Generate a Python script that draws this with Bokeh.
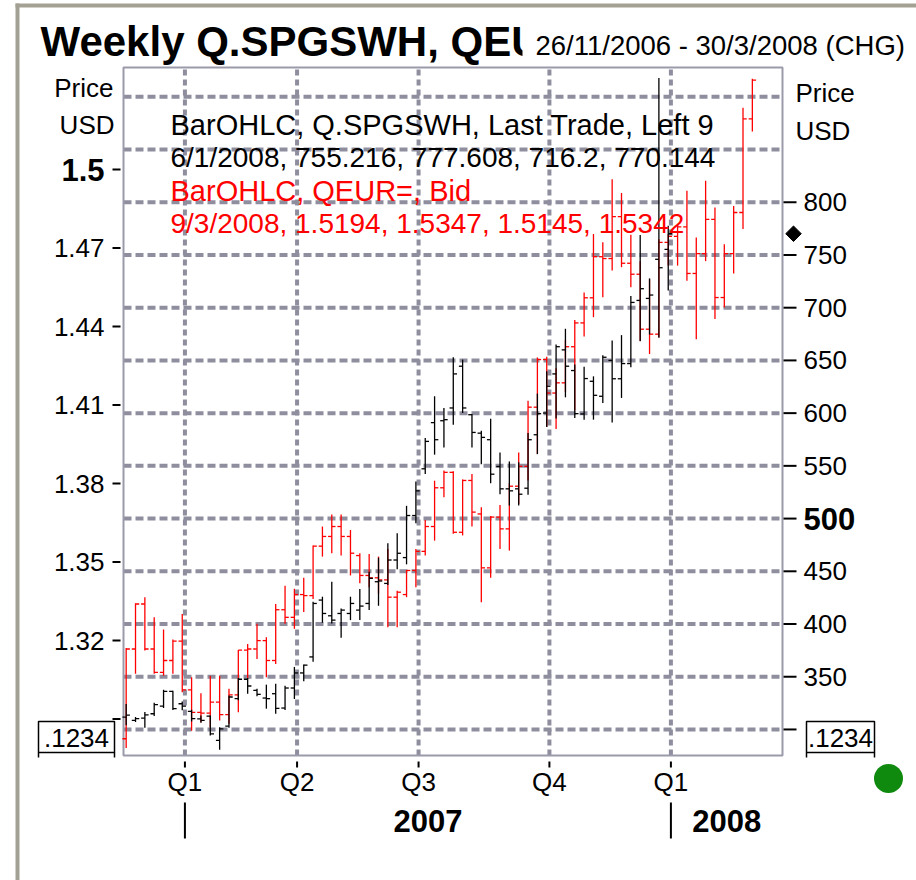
import numpy as np
import pandas as pd
from bokeh.plotting import figure
from bokeh.models import Range1d
from bokeh.core.properties import value
from bokeh.embed import file_html
from bokeh.resources import INLINE

FONT = "Liberation Sans"

# ---------------- data ----------------
first_week = "2006-11-26"
range_end_label = "30/3/2008"

# QEUR= , Bid (left axis)
eur_open = [1.2825, 1.3168, 1.3340, 1.3168, 1.3079, 1.3124, 1.3198, 1.3012, 1.2926, 1.2923,
            1.2965, 1.2917, 1.2993, 1.3164, 1.3168, 1.3200, 1.3124, 1.3318, 1.3289, 1.3376,
            1.3372, 1.3561, 1.3598, 1.3636, 1.3598, 1.3525, 1.3449, 1.3440, 1.3432, 1.3366,
            1.3376, 1.3468, 1.3541, 1.3636, 1.3784, 1.3843, 1.3614, 1.3812, 1.3684, 1.3478,
            1.3672, 1.3627, 1.3790, 1.3866, 1.4092, 1.4274, 1.4146, 1.4185, 1.4323, 1.4414,
            1.4510, 1.4667, 1.4660, 1.4820, 1.4642, 1.4600, 1.4390, 1.4371, 1.4722, 1.4745,
            1.4781, 1.4603, 1.4679, 1.4810, 1.4511, 1.4679, 1.4836, 1.5194]
eur_high = [1.3172, 1.3343, 1.3366, 1.3289, 1.3242, 1.3204, 1.3302, 1.3060, 1.2999, 1.3066,
            1.3066, 1.3016, 1.3164, 1.3187, 1.3264, 1.3213, 1.3340, 1.3410, 1.3398, 1.3440,
            1.3563, 1.3636, 1.3682, 1.3682, 1.3623, 1.3534, 1.3531, 1.3521, 1.3550, 1.3391,
            1.3470, 1.3550, 1.3661, 1.3811, 1.3850, 1.3847, 1.3816, 1.3837, 1.3710, 1.3676,
            1.3718, 1.3801, 1.3919, 1.4117, 1.4282, 1.4285, 1.4241, 1.4348, 1.4425, 1.4530,
            1.4754, 1.4722, 1.4963, 1.4910, 1.4751, 1.4650, 1.4581, 1.4734, 1.4754, 1.4790,
            1.4919, 1.4740, 1.4957, 1.4855, 1.4715, 1.4861, 1.5236, 1.5347]
eur_low = [1.2790, 1.3073, 1.3162, 1.3073, 1.3066, 1.3073, 1.3003, 1.2856, 1.2888, 1.2869,
           1.2895, 1.2882, 1.2926, 1.3054, 1.3130, 1.3060, 1.3111, 1.3264, 1.3245, 1.3309,
           1.3359, 1.3521, 1.3534, 1.3525, 1.3449, 1.3419, 1.3404, 1.3379, 1.3251, 1.3251,
           1.3366, 1.3404, 1.3525, 1.3582, 1.3748, 1.3608, 1.3602, 1.3636, 1.3347, 1.3440,
           1.3550, 1.3544, 1.3722, 1.3812, 1.3913, 1.4017, 1.4009, 1.4150, 1.4080, 1.4362,
           1.4436, 1.4512, 1.4614, 1.4627, 1.4550, 1.4346, 1.4295, 1.4359, 1.4633, 1.4633,
           1.4575, 1.4352, 1.4650, 1.4429, 1.4473, 1.4603, 1.4773, 1.5145]
eur_close = [1.3168, 1.3340, 1.3168, 1.3079, 1.3124, 1.3198, 1.3012, 1.2926, 1.2923, 1.2965,
             1.2917, 1.2993, 1.3164, 1.3168, 1.3200, 1.3124, 1.3318, 1.3289, 1.3376, 1.3372,
             1.3561, 1.3598, 1.3636, 1.3598, 1.3534, 1.3449, 1.3440, 1.3432, 1.3366, 1.3385,
             1.3468, 1.3541, 1.3636, 1.3784, 1.3843, 1.3614, 1.3812, 1.3691, 1.3478, 1.3672,
             1.3627, 1.3790, 1.3866, 1.4092, 1.4274, 1.4146, 1.4185, 1.4323, 1.4414, 1.4510,
             1.4667, 1.4660, 1.4820, 1.4642, 1.4600, 1.4390, 1.4371, 1.4722, 1.4745, 1.4781,
             1.4603, 1.4679, 1.4810, 1.4511, 1.4679, 1.4836, 1.5194, 1.5342]

# Q.SPGSWH , Last Trade (right axis, USD)
usd_open = [311.7, 308.6, 310.8, 314.9, 322.2, 336.1, 324.4, 317.1, 310.0, 312.7,
            289.6, 303.2, 329.2, 347.6, 337.1, 329.8, 333.9, 320.3, 339.3, 353.6,
            368.8, 422.7, 407.8, 410.0, 410.0, 413.2, 419.5, 440.1, 438.5, 460.7,
            463.0, 502.9, 547.2, 591.0, 592.8, 604.9, 644.5, 598.5, 581.0, 574.8,
            549.4, 528.2, 528.2, 528.8, 579.5, 600.1, 637.2, 660.0, 640.4, 599.2,
            630.2, 616.0, 650.0, 632.6, 647.0, 706.9, 708.8, 745.9, 755.216]
usd_high = [324.1, 311.7, 316.5, 325.4, 337.7, 336.8, 326.6, 318.7, 313.3, 313.3,
            302.2, 332.3, 348.8, 348.8, 338.7, 342.5, 343.4, 341.5, 359.3, 361.5,
            421.1, 425.9, 440.1, 414.8, 425.9, 433.2, 449.6, 462.9, 476.6, 486.1,
            512.1, 535.2, 576.4, 616.0, 604.9, 653.0, 650.8, 599.1, 583.3, 594.7,
            562.7, 554.2, 553.5, 581.1, 618.5, 639.7, 665.1, 680.0, 646.1, 644.0,
            634.9, 655.0, 668.9, 674.0, 711.0, 769.0, 727.8, 917.9, 777.608]
usd_low = [304.1, 307.0, 301.6, 312.7, 320.3, 318.4, 318.1, 307.6, 306.3, 294.3,
           280.7, 301.6, 327.6, 333.9, 331.4, 319.7, 314.9, 318.5, 328.9, 345.8,
           364.1, 401.2, 400.5, 386.9, 403.7, 403.7, 413.2, 417.3, 437.0, 451.9,
           456.6, 495.6, 542.2, 560.6, 567.5, 589.0, 600.1, 567.5, 551.6, 533.6,
           523.1, 512.3, 512.3, 522.5, 561.1, 586.8, 595.0, 615.0, 595.3, 593.8,
           593.8, 609.6, 591.0, 614.4, 643.5, 668.2, 674.6, 671.4, 716.2]
usd_close = [313.6, 310.2, 313.9, 323.5, 336.1, 319.7, 322.2, 310.2, 308.6, 295.9,
             300.6, 330.8, 347.6, 341.2, 333.3, 329.2, 320.0, 339.3, 353.6, 361.0,
             419.5, 410.0, 403.7, 413.2, 419.5, 417.0, 443.3, 440.8, 460.7, 467.1,
             502.9, 526.3, 573.2, 574.8, 593.8, 637.2, 604.9, 581.7, 577.0, 542.1,
             528.2, 526.3, 523.1, 574.8, 599.5, 625.5, 663.0, 644.5, 599.5, 632.8,
             616.9, 653.0, 632.6, 647.0, 705.0, 718.0, 712.0, 737.9, 770.144]

eur_ticks = [1.29, 1.32, 1.35, 1.38, 1.41, 1.44, 1.47, 1.50]
eur_bold = 1.50
usd_ticks = [300, 350, 400, 450, 500, 550, 600, 650, 700, 750, 800]
usd_bold = 500
usd_grid = [300, 350, 400, 450, 500, 550, 600, 650, 700, 750, 800, 850, 900]
quarter_starts = ["2007-01-01", "2007-04-01", "2007-07-01", "2007-10-01", "2008-01-01"]
quarter_labels = ["Q1", "Q2", "Q3", "Q4", "Q1"]
year_labels = ["2007", "2008"]
range_end = "2008-03-31 14:00"
eur_range = (1.2761, 1.539)
usd_range = (275.3, 927.8)

# ---------------- derived ----------------
dates = pd.date_range(first_week, periods=len(eur_open), freq="7D")
def ms(t):
    return pd.Timestamp(t).value / 1e6
eur_x = np.array([ms(d) for d in dates])
usd_x = eur_x[:len(usd_open)]
DAY = 86400000.0
TICK = 0.4 * 7 * DAY

def first_bar(start):
    # first weekly bar of the quarter; the divider sits just after that bar
    return next(x for x, d in zip(eur_x, dates) if d >= pd.Timestamp(start)) + 2 * DAY
quarter_x = [first_bar(q) for q in quarter_starts]
x_start = eur_x[0] - 2 * DAY
x_end = ms(range_end)
year_x = [quarter_x[0], quarter_x[4]]
year_mid = [(year_x[0] + year_x[1]) / 2, (year_x[1] + x_end) / 2]

def dstr(d):
    return f"{d.day}/{d.month}/{d.year}"

# ---------------- layout (page pixels) ----------------
W, H = 916, 880
BL, BR, BT, BB = 123, 782, 67, 755          # plot box

def xfull(lo, hi):
    k = (hi - lo) / (BR - BL)
    return Range1d(lo - BL * k, hi + (W - BR) * k)

def yfull(lo, hi):
    k = (hi - lo) / (BB - BT)
    return Range1d(lo - (H - BB) * k, hi + BT * k)

p = figure(width=W, height=H, output_backend="svg", toolbar_location=None,
           x_axis_type=None, y_axis_type=None,
           x_range=xfull(x_start, x_end), y_range=yfull(*eur_range),
           min_border=0, min_border_left=0, min_border_right=0,
           min_border_top=0, min_border_bottom=0,
           background_fill_color="white", border_fill_color="white",
           outline_line_color=None)
p.extra_y_ranges = {"usd": yfull(*usd_range), "px": Range1d(H, 0)}
p.extra_x_ranges = {"px": Range1d(0, W)}

PX = dict(x_range_name="px", y_range_name="px")

def txt(x, y, text, size, color="black", bold=False, align="left", baseline="middle",
        xr="px", yr="px"):
    p.text(x=list(x), y=list(y), text=list(text), x_range_name=xr, y_range_name=yr,
           text_font=value(FONT), text_font_size=value(size), text_color=color,
           text_font_style="bold" if bold else "normal",
           text_align=align, text_baseline=baseline)

# outer panel edges
PANEL = "#a3a193"
p.quad(left=[15], right=[19], top=[3], bottom=[H], fill_color=PANEL, line_color=None, **PX)
p.quad(left=[15], right=[W], top=[3], bottom=[7], fill_color=PANEL, line_color=None, **PX)

# grid
GRID = "#8e8e9e"
p.segment(x0=[x_start] * len(usd_grid), x1=[x_end] * len(usd_grid), y0=usd_grid, y1=usd_grid,
          y_range_name="usd", line_color=GRID, line_width=4, line_dash="8 4")
p.segment(x0=quarter_x, x1=quarter_x, y0=[eur_range[0]] * 5, y1=[eur_range[1]] * 5,
          line_color=GRID, line_width=4, line_dash="6 4")

# plot box
p.quad(left=[x_start], right=[x_end], bottom=[eur_range[0]], top=[eur_range[1]],
       fill_color=None, line_color="#9a9aab", line_width=2)

# ---------------- OHLC bars ----------------
def ohlc(xs, o, h, l, c, color, yname="default"):
    kw = dict(line_color=color, line_width=1.3, y_range_name=yname)
    p.segment(x0=xs, y0=l, x1=xs, y1=h, **kw)
    p.segment(x0=xs - TICK, y0=o, x1=xs, y1=o, **kw)
    p.segment(x0=xs, y0=c, x1=xs + TICK, y1=c, **kw)

ohlc(eur_x, eur_open, eur_high, eur_low, eur_close, "#ff0000")
ohlc(usd_x, usd_open, usd_high, usd_low, usd_close, "#000000", "usd")

# ---------------- axes ----------------
# left (EUR)
p.segment(x0=[112] * len(eur_ticks), x1=[120] * len(eur_ticks), y0=eur_ticks, y1=eur_ticks,
          x_range_name="px", line_color="black", line_width=2)
lt = [t for t in eur_ticks[1:] if t != eur_bold]
txt([104] * len(lt), lt, [f"{t:.2f}" for t in lt], "26px", align="right", yr="default")
txt([104], [eur_bold], [f"{eur_bold:g}"], "31px", bold=True, align="right", yr="default")

# right (USD)
p.segment(x0=[783] * len(usd_ticks), x1=[796] * len(usd_ticks), y0=usd_ticks, y1=usd_ticks,
          x_range_name="px", y_range_name="usd", line_color="black", line_width=2)
rt = [t for t in usd_ticks[1:] if t != usd_bold]
txt([803] * len(rt), rt, [str(t) for t in rt], "26px", yr="usd")
txt([803], [usd_bold], [str(usd_bold)], "31px", bold=True, yr="usd")

# bottom (quarters)
p.segment(x0=quarter_x, x1=quarter_x, y0=[761] * 5, y1=[767] * 5, y_range_name="px",
          line_color="black", line_width=2)
txt(quarter_x, [781] * 5, quarter_labels, "26px", align="center", xr="default")
p.segment(x0=year_x, x1=year_x, y0=[802] * 2, y1=[838] * 2, y_range_name="px",
          line_color="black", line_width=2)
txt(year_mid, [820] * 2, year_labels, "31px", bold=True, align="center", xr="default")

# axis titles
txt([113, 114], [87, 124], ["Price", "USD"], "26px", align="right")
txt([795, 795], [92, 130], ["Price", "USD"], "26px")

# placeholder value boxes
p.quad(left=[38, 806], right=[114, 874], top=[721, 721], bottom=[752, 752],
       fill_color="white", line_color="black", line_width=1.5, **PX)
p.segment(x0=[38, 114, 806, 874], x1=[38, 114, 806, 874], y0=[752] * 4, y1=[757] * 4,
          line_color="black", line_width=1.5, **PX)
txt([76, 840], [737, 737], [".1234", ".1234"], "26px", align="center")

# last-value marker and status dot
p.scatter(x=[793], y=[usd_close[-1]], marker="square", angle=np.pi / 4, size=11,
          x_range_name="px", y_range_name="usd", fill_color="black", line_color="black")
p.scatter(x=[888], y=[778], marker="circle", size=29, fill_color="#0f8a0f",
          line_color=None, **PX)

# title
txt([40], [41], ["Weekly Q.SPGSWH, QEU"], "42px", bold=True)
p.quad(left=[522], right=[W], top=[10], bottom=[63], fill_color="white", line_color=None, **PX)
txt([535], [45], [f"{dstr(dates[0])} - {range_end_label} (CHG)"], "27.5px")

# legend
leg = [
    ("BarOHLC, Q.SPGSWH, Last Trade, Left 9", "black", "29px"),
    (f"{dstr(dates[len(usd_open) - 1])}, {usd_open[-1]}, {usd_high[-1]}, {usd_low[-1]}, {usd_close[-1]}",
     "black", "28px"),
    ("BarOHLC, QEUR=, Bid", "#ff0000", "29px"),
    (f"{dstr(dates[-1])}, {eur_open[-1]}, {eur_high[-1]}, {eur_low[-1]}, {eur_close[-1]}",
     "#ff0000", "28px"),
]
for i, (t, col, sz) in enumerate(leg):
    txt([170], [124 + 33 * i], [t], sz, color=col)

open("out.html", "w").write(file_html(p, INLINE))
